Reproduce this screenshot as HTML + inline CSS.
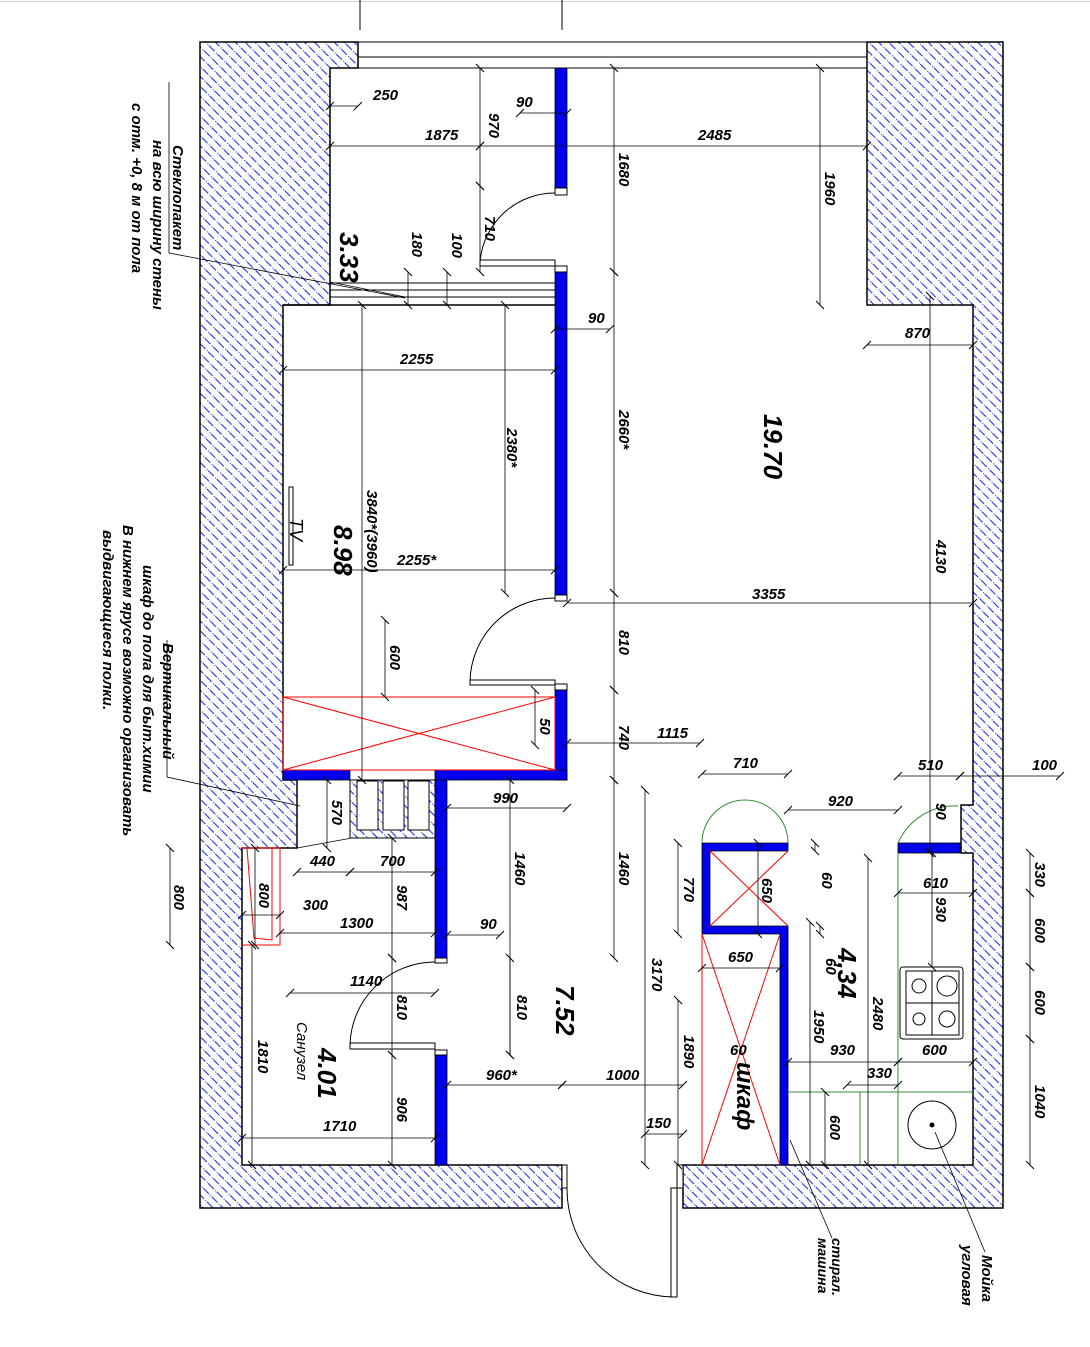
<!DOCTYPE html>
<html><head><meta charset="utf-8"><style>
html,body{margin:0;padding:0;background:#fff}
svg{display:block}
text{font-family:"Liberation Sans","DejaVu Sans",sans-serif;font-style:italic;font-weight:bold;fill:#000}
.d{font-size:15px}
.b{font-size:26px;font-weight:normal}
.n{font-size:15px}
</style></head><body>
<svg width="1090" height="1347" viewBox="0 0 1090 1347" xmlns="http://www.w3.org/2000/svg">
<defs>
<pattern id="h" patternUnits="userSpaceOnUse" width="7" height="12" patternTransform="rotate(-45)">
<line x1="3.5" y1="0" x2="3.5" y2="12" stroke="#2233ee" stroke-width="1.1" stroke-dasharray="8 2 1 1"/>
</pattern>
<marker id="t" viewBox="-5 -5 10 10" markerWidth="10" markerHeight="10" orient="auto" markerUnits="userSpaceOnUse">
<line x1="-4" y1="4" x2="4" y2="-4" stroke="#000" stroke-width="1"/>
</marker>
</defs>
<rect width="1090" height="1347" fill="#fff"/>
<line x1="0" y1="1.5" x2="1090" y2="1.5" stroke="#ccc"/>
<line x1="360" y1="0" x2="360" y2="30" stroke="#000"/>
<line x1="562" y1="0" x2="562" y2="30" stroke="#000"/>

<path d="M200,42 H358 V68 H330 V305 H283 V780 H297 V848 H242 V1165 H562 V1208 H200 Z" fill="url(#h)" stroke="#000" stroke-width="1.5"/>
<path d="M867,42 H1003 V1208 H683 V1165 H973 V853 H961 V805 H973 V305 H867 Z" fill="url(#h)" stroke="#000" stroke-width="1.5"/>
<rect x="350" y="780" width="85" height="58" fill="url(#h)" stroke="#000"/>
<rect x="357" y="781" width="21" height="49" fill="#fff" stroke="#000"/>
<rect x="383" y="781" width="21" height="49" fill="#fff" stroke="#000"/>
<rect x="408" y="781" width="21" height="49" fill="#fff" stroke="#000"/>

<g stroke="#000" fill="none">
<rect x="358" y="42" width="509" height="26"/>
<line x1="358" y1="57" x2="867" y2="57"/>
<line x1="330" y1="283" x2="555" y2="283"/>
<line x1="330" y1="290" x2="555" y2="290"/>
<line x1="330" y1="297" x2="555" y2="297"/>
<line x1="283" y1="305" x2="555" y2="305" stroke-width="1.5"/>
</g>

<g fill="#0000ee" stroke="#000" stroke-width="0.8">
<rect x="555" y="68" width="12" height="120"/>
<rect x="555" y="272" width="12" height="323"/>
<rect x="555" y="690" width="12" height="90"/>
<rect x="283" y="770" width="67" height="10"/>
<rect x="435" y="770" width="132" height="10"/>
<rect x="435" y="780" width="12" height="178"/>
<rect x="435" y="1055" width="12" height="110"/>
<path d="M702,843 H788 V851 H710 V926 H788 V1165 H780 V934 H702 Z"/>
<rect x="898" y="843" width="62" height="10"/>
</g>

<g stroke="#f00" fill="none" stroke-width="1">
<rect x="283" y="697" width="272" height="73"/>
<line x1="283" y1="697" x2="555" y2="770"/><line x1="283" y1="770" x2="555" y2="697"/>
<line x1="710" y1="851" x2="788" y2="926"/><line x1="710" y1="926" x2="788" y2="851"/>
<line x1="702" y1="934" x2="702" y2="1165"/>
<line x1="702" y1="934" x2="780" y2="1165"/><line x1="702" y1="1165" x2="780" y2="934"/>
<path d="M242,848 H280 V945 H242"/>
<path d="M247,848 L254,938 L272,940 L272,848"/>
</g>

<g stroke="#000" fill="#fff" stroke-width="1">
<rect x="555" y="188" width="12" height="7"/>
<rect x="555" y="266" width="12" height="6"/>
<rect x="480" y="260" width="75" height="6"/>
<rect x="555" y="595" width="12" height="6"/>
<rect x="555" y="684" width="12" height="6"/>
<rect x="470" y="680" width="85" height="5"/>
<rect x="435" y="958" width="12" height="5"/>
<rect x="435" y="1050" width="12" height="5"/>
<rect x="350" y="1043" width="85" height="6"/>
<rect x="562" y="1165" width="5" height="23"/>
<rect x="677" y="1165" width="6" height="23"/>
<rect x="671" y="1188" width="6" height="109"/>
</g>
<g fill="none" stroke="#000">
<path d="M480,262 A75,75 0 0 1 555,193"/>
<path d="M470,682 A85,85 0 0 1 555,598"/>
<path d="M350,1045 A85,85 0 0 1 435,962"/>
<path d="M567,1188 A108,108 0 0 0 673,1297"/>
</g>
<g fill="none" stroke="#3a8a3a">
<path d="M702,843 A43,43 0 0 1 788,843"/>
<path d="M898,843 A62,62 0 0 1 958,806"/>
<line x1="898" y1="853" x2="898" y2="1165"/>
<line x1="788" y1="1092" x2="973" y2="1092"/>
<line x1="860" y1="1092" x2="860" y2="1165"/>
</g>

<g stroke="#000" fill="#fff">
<rect x="900" y="967" width="63" height="72" rx="3"/>
<rect x="906" y="971" width="53" height="64"/>
<line x1="932" y1="971" x2="932" y2="1035"/><line x1="906" y1="1003" x2="959" y2="1003"/>
<circle cx="919" cy="986" r="7" fill="none"/><circle cx="947" cy="986" r="10" fill="none"/>
<circle cx="919" cy="1019" r="6" fill="none"/><circle cx="947" cy="1019" r="8" fill="none"/>
<circle cx="932" cy="1125" r="24" fill="none"/>
<circle cx="932" cy="1125" r="2" fill="#000"/>
</g>

<rect x="289" y="487" width="4" height="78" fill="#fff" stroke="#000"/>

<g stroke="#000" fill="none" stroke-width="0.8">
<polyline points="169,82 169,253 405,298"/>
<polyline points="330,282 405,297"/>
<polyline points="167,640 167,777 300,806"/>
<polyline points="297,848 352,838"/>
<line x1="790" y1="1140" x2="832" y2="1238"/>
<line x1="935" y1="1132" x2="985" y2="1252"/>
</g>

<g stroke="#000" stroke-width="0.8" marker-start="url(#t)" marker-end="url(#t)">
<line x1="330" y1="106" x2="358" y2="106"/>
<line x1="330" y1="146" x2="480" y2="146"/>
<line x1="480" y1="146" x2="867" y2="146"/>
<line x1="520" y1="113" x2="567" y2="113"/>
<line x1="480" y1="68" x2="480" y2="186"/>
<line x1="480" y1="186" x2="480" y2="272"/>
<line x1="614" y1="68" x2="614" y2="272"/>
<line x1="820" y1="68" x2="820" y2="305"/>
<line x1="408" y1="272" x2="408" y2="305"/>
<line x1="447" y1="272" x2="447" y2="305"/>
<line x1="555" y1="329" x2="610" y2="329"/>
<line x1="867" y1="345" x2="973" y2="345"/>
<line x1="283" y1="370" x2="555" y2="370"/>
<line x1="283" y1="570" x2="555" y2="570"/>
<line x1="505" y1="305" x2="505" y2="593"/>
<line x1="614" y1="272" x2="614" y2="593"/>
<line x1="362" y1="305" x2="362" y2="780"/>
<line x1="567" y1="603" x2="973" y2="603"/>
<line x1="614" y1="593" x2="614" y2="690"/>
<line x1="614" y1="690" x2="614" y2="780"/>
<line x1="385" y1="620" x2="385" y2="697"/>
<line x1="535" y1="690" x2="535" y2="745"/>
<line x1="567" y1="743" x2="700" y2="743"/>
<line x1="702" y1="774" x2="788" y2="774"/>
<line x1="898" y1="776" x2="960" y2="776"/>
<line x1="960" y1="776" x2="1060" y2="776"/>
<line x1="788" y1="810" x2="898" y2="810"/>
<line x1="447" y1="808" x2="567" y2="808"/>
<line x1="930" y1="296" x2="930" y2="853"/>
<line x1="327" y1="780" x2="327" y2="848"/>
<line x1="297" y1="872" x2="350" y2="872"/>
<line x1="350" y1="872" x2="435" y2="872"/>
<line x1="242" y1="915" x2="280" y2="915"/>
<line x1="280" y1="933" x2="435" y2="933"/>
<line x1="447" y1="935" x2="500" y2="935"/>
<line x1="510" y1="780" x2="510" y2="1055"/>
<line x1="614" y1="780" x2="614" y2="958"/>
<line x1="392" y1="838" x2="392" y2="958"/>
<line x1="170" y1="848" x2="170" y2="945"/>
<line x1="255" y1="848" x2="255" y2="945"/>
<line x1="815" y1="843" x2="815" y2="851"/>
<line x1="820" y1="926" x2="820" y2="934"/>
<line x1="678" y1="843" x2="678" y2="934"/>
<line x1="758" y1="843" x2="758" y2="934"/>
<line x1="702" y1="968" x2="780" y2="968"/>
<line x1="645" y1="790" x2="645" y2="1165"/>
<line x1="290" y1="993" x2="435" y2="993"/>
<line x1="392" y1="958" x2="392" y2="1055"/>
<line x1="510" y1="958" x2="510" y2="1055"/>
<line x1="1030" y1="853" x2="1030" y2="893"/>
<line x1="1030" y1="893" x2="1030" y2="967"/>
<line x1="1030" y1="967" x2="1030" y2="1039"/>
<line x1="1030" y1="1039" x2="1030" y2="1165"/>
<line x1="898" y1="893" x2="973" y2="893"/>
<line x1="932" y1="853" x2="932" y2="967"/>
<line x1="868" y1="858" x2="868" y2="1165"/>
<line x1="810" y1="922" x2="810" y2="1165"/>
<line x1="788" y1="1062" x2="898" y2="1062"/>
<line x1="898" y1="1062" x2="973" y2="1062"/>
<line x1="847" y1="1085" x2="898" y2="1085"/>
<line x1="825" y1="1092" x2="825" y2="1165"/>
<line x1="447" y1="1085" x2="562" y2="1085"/>
<line x1="562" y1="1085" x2="683" y2="1085"/>
<line x1="645" y1="1134" x2="683" y2="1134"/>
<line x1="678" y1="1000" x2="678" y2="1165"/>
<line x1="252" y1="945" x2="252" y2="1165"/>
<line x1="242" y1="1138" x2="435" y2="1138"/>
<line x1="392" y1="1055" x2="392" y2="1165"/>
</g>

<g class="d">
<text x="373" y="100">250</text>
<text x="425" y="140">1875</text>
<text x="516" y="107">90</text>
<text x="698" y="140">2485</text>
<text x="588" y="323">90</text>
<text x="905" y="338">870</text>
<text x="400" y="364">2255</text>
<text x="397" y="565">2255*</text>
<text x="752" y="599">3355</text>
<text x="657" y="738">1115</text>
<text x="733" y="768">710</text>
<text x="918" y="770">510</text>
<text x="1032" y="770">100</text>
<text x="828" y="806">920</text>
<text x="493" y="803">990</text>
<text x="310" y="866">440</text>
<text x="380" y="866">700</text>
<text x="303" y="910">300</text>
<text x="340" y="928">1300</text>
<text x="480" y="929">90</text>
<text x="728" y="962">650</text>
<text x="923" y="888">610</text>
<text x="350" y="986">1140</text>
<text x="830" y="1055">930</text>
<text x="922" y="1055">600</text>
<text x="730" y="1055">60</text>
<text x="867" y="1078">330</text>
<text x="486" y="1080">960*</text>
<text x="606" y="1080">1000</text>
<text x="646" y="1128">150</text>
<text x="323" y="1131">1710</text>
</g>

<g class="d">
<text transform="translate(489,113) rotate(90)">970</text>
<text transform="translate(619,153) rotate(90)">1680</text>
<text transform="translate(825,172) rotate(90)">1960</text>
<text transform="translate(485,216) rotate(90)">710</text>
<text transform="translate(412,232) rotate(90)">180</text>
<text transform="translate(452,233) rotate(90)">100</text>
<text transform="translate(507,428) rotate(90)">2380*</text>
<text transform="translate(619,410) rotate(90)">2660*</text>
<text transform="translate(367,490) rotate(90)">3840*(3960)</text>
<text transform="translate(936,540) rotate(90)">4130</text>
<text transform="translate(619,630) rotate(90)">810</text>
<text transform="translate(390,645) rotate(90)">600</text>
<text transform="translate(540,718) rotate(90)">50</text>
<text transform="translate(619,725) rotate(90)">740</text>
<text transform="translate(332,800) rotate(90)">570</text>
<text transform="translate(936,803) rotate(90)">90</text>
<text transform="translate(515,852) rotate(90)">1460</text>
<text transform="translate(619,852) rotate(90)">1460</text>
<text transform="translate(822,872) rotate(90)">60</text>
<text transform="translate(1035,862) rotate(90)">330</text>
<text transform="translate(684,877) rotate(90)">770</text>
<text transform="translate(762,878) rotate(90)">650</text>
<text transform="translate(174,885) rotate(90)">800</text>
<text transform="translate(259,883) rotate(90)">800</text>
<text transform="translate(397,885) rotate(90)">987</text>
<text transform="translate(936,897) rotate(90)">930</text>
<text transform="translate(1035,918) rotate(90)">600</text>
<text transform="translate(826,958) rotate(90)">60</text>
<text transform="translate(652,958) rotate(90)">3170</text>
<text transform="translate(873,997) rotate(90)">2480</text>
<text transform="translate(1035,990) rotate(90)">600</text>
<text transform="translate(814,1010) rotate(90)">1950</text>
<text transform="translate(397,995) rotate(90)">810</text>
<text transform="translate(517,995) rotate(90)">810</text>
<text transform="translate(258,1040) rotate(90)">1810</text>
<text transform="translate(684,1035) rotate(90)">1890</text>
<text transform="translate(397,1097) rotate(90)">906</text>
<text transform="translate(830,1115) rotate(90)">600</text>
<text transform="translate(1035,1085) rotate(90)">1040</text>
</g>

<g class="b">
<text transform="translate(340,232) rotate(90)">3.33</text>
<text transform="translate(764,414) rotate(90)">19.70</text>
<text transform="translate(334,525) rotate(90)">8.98</text>
<text transform="translate(838,948) rotate(90)">4,34</text>
<text transform="translate(556,985) rotate(90)">7.52</text>
<text transform="translate(318,1048) rotate(90)">4.01</text>
<text transform="translate(737,1062) rotate(90)" style="font-weight:bold;font-size:24px">шкаф</text>
</g>
<g class="n">
<text transform="translate(290,518) rotate(90)" style="font-size:18px;font-weight:normal">TV</text>
<text transform="translate(297,1022) rotate(90)" style="font-weight:normal">Санузел</text>
<text transform="translate(173,145) rotate(90)">Стеклопакет</text>
<text transform="translate(153,140) rotate(90)">на  всю ширину стены</text>
<text transform="translate(132,103) rotate(90)">с отм. +0, 8 м от пола</text>
<text transform="translate(163,643) rotate(90)">Вертикальный</text>
<text transform="translate(143,565) rotate(90)">шкаф  до пола для быт.химии</text>
<text transform="translate(123,525) rotate(90)">В нижнем ярусе возможно организовать</text>
<text transform="translate(103,530) rotate(90)">выдвигающиеся полки.</text>
<text transform="translate(832,1238) rotate(90)" style="font-size:14px">стирал.</text>
<text transform="translate(818,1238) rotate(90)" style="font-size:14px">машина</text>
<text transform="translate(982,1255) rotate(90)">Мойка</text>
<text transform="translate(962,1245) rotate(90)">угловая</text>
</g>
</svg>
</body></html>
